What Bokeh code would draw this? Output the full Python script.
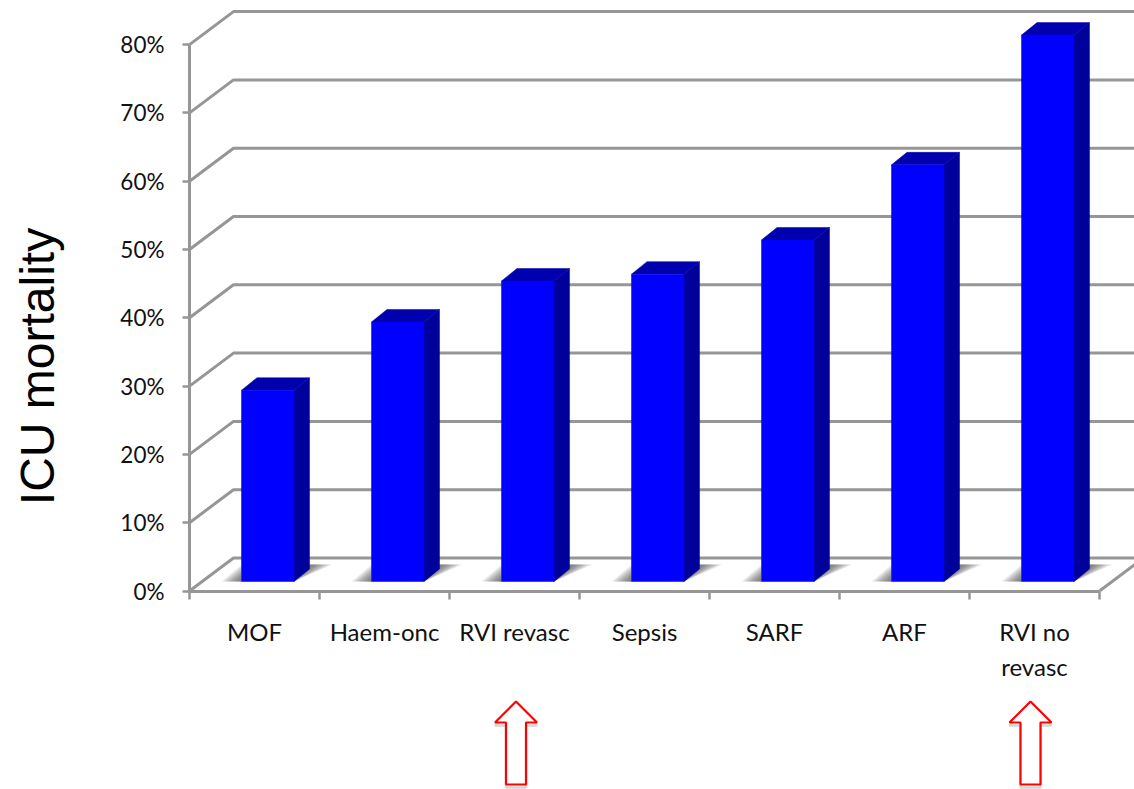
from math import pi

from bokeh.core.properties import value
from bokeh.embed import file_html
from bokeh.models import FixedTicker, LinearAxis, PrintfTickFormatter, Range1d
from bokeh.plotting import figure
from bokeh.resources import INLINE

# Chart data
categories = ["MOF", "Haem-onc", "RVI revasc", "Sepsis", "SARF", "ARF", "RVI no\nrevasc"]
mortality = [28, 38, 44, 45, 50, 61, 80]
y_ticks = [0, 10, 20, 30, 40, 50, 60, 70, 80]
highlighted = ["RVI revasc", "RVI no\nrevasc"]

# Screen scale of the plot: one category slot and one percentage point, in pixels
WIDTH, HEIGHT = 1134, 789
SLOT = 130.0
PCT = 6.83
ORIGIN_X, ORIGIN_Y = 189.0, 590.5


def dx(px):
    return px / SLOT


def dy(px):
    return px / PCT


GREY = "#969696"
FRONT = "#0000FF"
SIDE = "#00009A"
TOP = "#0000AE"

p = figure(
    width=WIDTH,
    height=HEIGHT,
    output_backend="svg",
    toolbar_location=None,
    x_axis_type=None,
    y_axis_type=None,
    min_border=0,
    outline_line_color=None,
    background_fill_color="white",
    x_range=Range1d(-dx(ORIGIN_X), dx(WIDTH - ORIGIN_X)),
    y_range=Range1d(dy(ORIGIN_Y - HEIGHT), dy(ORIGIN_Y)),
)
p.grid.visible = False

# Walls of the 3D box: a slanted stub from the axis, then a run along the back
n = len(categories)
depth_x, depth_y = dx(44), dy(33)
for t in y_ticks:
    p.line([0, depth_x, n + depth_x], [t, t + depth_y, t + depth_y],
           line_color=GREY, line_width=3)
p.line([n, n + depth_x], [0, depth_y], line_color=GREY, line_width=3)

# Axes pinned to the chart origin
yaxis = LinearAxis(
    ticker=FixedTicker(ticks=y_ticks),
    formatter=PrintfTickFormatter(format="%d%%"),
    fixed_location=0,
    bounds=(0, 80),
    axis_line_color=GREY,
    axis_line_width=3,
    major_tick_line_color=GREY,
    major_tick_line_width=2.5,
    major_tick_out=7,
    major_tick_in=0,
    minor_tick_line_color=None,
    major_label_standoff=18,
    major_label_text_font="Lato",
    major_label_text_font_size="22.5px",
    major_label_text_color="#111111",
)
p.add_layout(yaxis, "left")

xaxis = LinearAxis(
    ticker=FixedTicker(ticks=list(range(n + 1))),
    fixed_location=0,
    bounds=(0, n),
    axis_line_color=GREY,
    axis_line_width=3,
    major_tick_line_color=GREY,
    major_tick_line_width=2.5,
    major_tick_out=8,
    major_tick_in=0,
    minor_tick_line_color=None,
    major_label_text_color=None,
    major_label_text_font_size="1px",
)
p.add_layout(xaxis, "below")

centres = [i + 0.5 for i in range(n)]
label_axis = LinearAxis(
    ticker=FixedTicker(ticks=centres),
    major_label_overrides={c: s for c, s in zip(centres, categories)},
    fixed_location=0,
    axis_line_color=None,
    major_tick_line_color=None,
    minor_tick_line_color=None,
    major_label_standoff=20,
    major_label_text_font="Lato",
    major_label_text_font_size="24px",
    major_label_text_color="#111111",
)
p.add_layout(label_axis, "below")

# Bars stand slightly inside the box: offset right and up from the slot
bar_w = dx(52.5)
bar_left = [i + dx(52) for i in range(n)]
bar_right = [x + bar_w for x in bar_left]
base = dy(9.5)
bar_top = [v + base for v in mortality]
side_x, side_y = dx(15.5), dy(12.5)

# Soft floor shadow, built from stacked translucent wedges
LAYERS = 12
for k in range(1, LAYERS + 1):
    f = k / LAYERS
    xs_left = [[x, x - dx(20) * f, x] for x in bar_left]
    ys_left = [[base, base, base + dy(17) * f] for _ in bar_left]
    xs_right = [[x, x + side_x + dx(23) * f, x + side_x] for x in bar_right]
    ys_right = [[base, base + dy(17), base + dy(17)] for _ in bar_right]
    p.patches(xs_left, ys_left, fill_color="#444444", fill_alpha=0.09, line_color=None)
    p.patches(xs_right, ys_right, fill_color="#444444", fill_alpha=0.09, line_color=None)

# Bar side, top and front faces
p.patches(
    [[r, r + side_x, r + side_x, r] for r in bar_right],
    [[base, base + side_y, t + side_y, t] for t in bar_top],
    fill_color=SIDE, line_color=SIDE, line_width=0.5,
)
p.patches(
    [[l, l + side_x, r + side_x, r] for l, r in zip(bar_left, bar_right)],
    [[t, t + side_y, t + side_y, t] for t in bar_top],
    fill_color=TOP, line_color=TOP, line_width=0.5,
)
p.quad(left=bar_left, right=bar_right, bottom=base, top=bar_top,
       fill_color=FRONT, line_color=FRONT, line_width=0.5)

# Outlined arrows beneath the two revascularisation groups
tip_y = dy(ORIGIN_Y - 701)
wing_y = dy(ORIGIN_Y - 722)
foot_y = dy(ORIGIN_Y - 784)
for name, nudge in zip(highlighted, [1.5, -4.0]):
    cx = categories.index(name) + 0.5 + dx(nudge)
    xs = [cx, cx + dx(21), cx + dx(10), cx + dx(10), cx - dx(10), cx - dx(10), cx - dx(21), cx]
    ys = [tip_y, wing_y, wing_y, foot_y, foot_y, wing_y, wing_y, tip_y]
    p.line(xs, [y - dy(3) for y in ys], line_color="#BBBBBB", line_width=2.5, line_alpha=0.6)
    p.patch(xs, ys, fill_color="white", line_color="#FF0000", line_width=2.2)

# Vertical axis title
p.text(
    x=[dx(36.5 - ORIGIN_X)], y=[dy(ORIGIN_Y - 366)], text=["ICU mortality"],
    angle=pi / 2, text_align="center", text_baseline="middle",
    text_font=value("Liberation Sans"), text_font_size="48px", text_color="#000000",
)

open("out.html", "w").write(file_html(p, INLINE))
